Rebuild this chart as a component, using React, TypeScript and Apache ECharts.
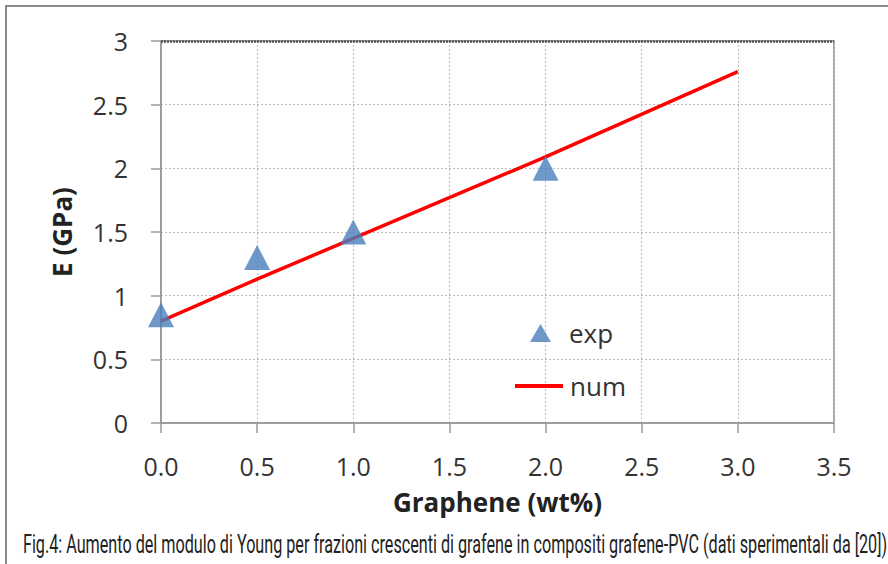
import React, { useEffect, useRef } from "react";
import * as echarts from "echarts";

// Experimental points (triangles)
const expX = [0.0, 0.5, 1.0, 2.0];
const expY = [0.85, 1.3, 1.5, 2.0];
// Numerical curve (red line)
const numX = [0.0, 0.5, 1.0, 2.0, 3.0];
const numY = [0.8, 1.13, 1.45, 2.09, 2.76];

const xMin = 0;
const xMax = 3.5;
const xStep = 0.5;
const yMin = 0;
const yMax = 3;
const yStep = 0.5;

const xName = "Graphene (wt%)";
const yName = "E (GPa)";
const seriesNames = ["exp", "num"];
const caption =
  "Fig.4: Aumento del modulo di Young per frazioni crescenti di grafene in compositi grafene-PVC (dati sperimentali da [20])";

const W = 888;
const H = 564;
const captionFont = "25px Roboto";

export default function App() {
  const ref = useRef<HTMLDivElement>(null);
  useEffect(() => {
    if (!ref.current) return;
    const chart = echarts.init(ref.current, undefined, { renderer: "svg" });

    // measure caption width to fit a condensed look
    let capScale = 0.7;
    try {
      const c = document.createElement("canvas");
      const ctx = c.getContext("2d");
      if (ctx) {
        ctx.font = captionFont;
        const w = ctx.measureText(caption).width;
        if (w > 0) capScale = 864 / w;
      }
    } catch (e) {}

    const font = "'Open Sans', sans-serif";
    const option: any = {
      animation: false,
      backgroundColor: "#ffffff",
      textStyle: { fontFamily: font },
      grid: {
        left: 161,
        top: 41,
        right: W - 834,
        bottom: H - 423,
        show: true,
        borderColor: "#8a8a8a",
        borderWidth: 1.5,
        backgroundColor: "transparent",
      },
      xAxis: {
        type: "value",
        min: xMin,
        max: xMax,
        interval: xStep,
        name: xName,
        nameLocation: "middle",
        nameGap: 66,
        nameTextStyle: { fontFamily: font, fontSize: 26, fontWeight: "bold", color: "#222" },
        axisLine: { show: true, lineStyle: { color: "#9a9a9a", width: 1.5 } },
        axisTick: { show: true, inside: false, length: 10, lineStyle: { color: "#9a9a9a", width: 1.5 } },
        axisLabel: {
          margin: 30,
          fontFamily: font,
          fontSize: 25,
          color: "#333",
          formatter: (v: number) => v.toFixed(1),
        },
        splitLine: { show: true, lineStyle: { color: "#bdbdbd", type: [2, 2], width: 1 } },
      },
      yAxis: {
        type: "value",
        min: yMin,
        max: yMax,
        interval: yStep,
        name: yName,
        nameLocation: "middle",
        nameGap: 86,
        nameRotate: 90,
        nameTextStyle: { fontFamily: font, fontSize: 26, fontWeight: "bold", color: "#222" },
        axisLine: { show: true, lineStyle: { color: "#9a9a9a", width: 1.5 } },
        axisTick: { show: true, inside: false, length: 10, lineStyle: { color: "#9a9a9a", width: 1.5 } },
        axisLabel: {
          margin: 33,
          fontFamily: font,
          fontSize: 25,
          color: "#333",
          formatter: (v: number) => String(v),
        },
        splitLine: { show: true, lineStyle: { color: "#bdbdbd", type: [2, 2], width: 1 } },
      },
      legend: [
        {
          data: [{ name: seriesNames[0], icon: "triangle" }],
          left: 530,
          top: 320,
          padding: 0,
          itemWidth: 21,
          itemHeight: 18,
          textStyle: { fontFamily: font, fontSize: 26, color: "#333", padding: [0, 0, 0, 13] },
        },
        {
          data: [{ name: seriesNames[1], icon: "rect" }],
          left: 515,
          top: 373,
          padding: 0,
          itemWidth: 48,
          itemHeight: 4,
          textStyle: { fontFamily: font, fontSize: 26, color: "#333", padding: [0, 0, 0, 2] },
        },
      ],
      series: [
        {
          name: seriesNames[1],
          type: "line",
          data: numX.map((x, i) => [x, numY[i]]),
          symbol: "none",
          lineStyle: { color: "#ff0000", width: 3.5 },
          itemStyle: { color: "#ff0000" },
          z: 2,
          markLine: {
            silent: true,
            symbol: "none",
            animation: false,
            label: { show: false },
            lineStyle: { color: "#555555", type: [2, 1], width: 2.5 },
            data: [{ yAxis: yMax }],
          },
        },
        {
          name: seriesNames[0],
          type: "scatter",
          data: expX.map((x, i) => [x, expY[i]]),
          symbol: "triangle",
          symbolSize: [26, 25],
          itemStyle: { color: "#4a7ebd" },
          z: 3,
        },
      ],
      graphic: [
        {
          type: "rect",
          shape: { x: 6, y: 6, width: 1000, height: 1000 },
          style: { fill: "none", stroke: "#8a8a8a", lineWidth: 2 },
          silent: true,
        },
        {
          type: "text",
          x: 23,
          y: 557,
          scaleX: capScale,
          style: {
            text: caption,
            font: captionFont,
            fill: "#222222",
            verticalAlign: "bottom",
          },
          silent: true,
        },
      ],
    };
    chart.setOption(option);
    return () => chart.dispose();
  }, []);
  return (
    <div
      ref={ref}
      style={{ position: "fixed", left: 0, top: 0, width: W, height: H, background: "#fff" }}
    />
  );
}
